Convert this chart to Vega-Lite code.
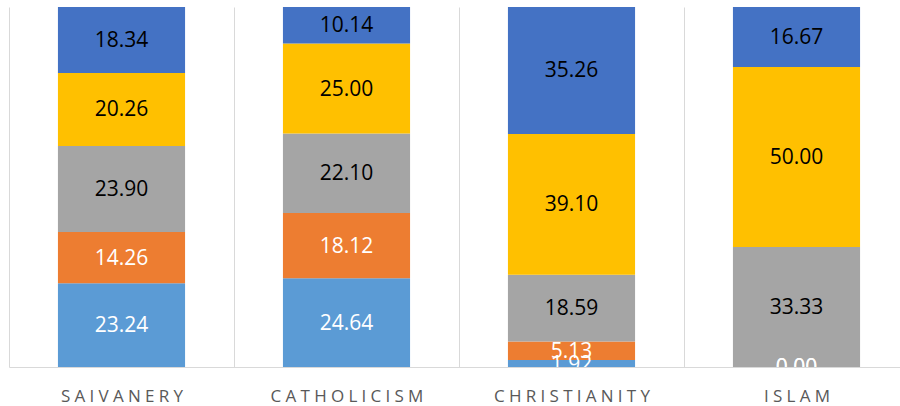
{
  "$schema": "https://vega.github.io/schema/vega-lite/v6.json",
  "width": 900,
  "height": 360,
  "autosize": {"type": "none"},
  "padding": {"left": 0, "top": 7, "right": 0, "bottom": 39},
  "config": {"view": {"stroke": null}},
  "data": {
    "values": [
      {"cat": "SAIVANERY", "s": "A", "v": 23.24},
      {"cat": "SAIVANERY", "s": "B", "v": 14.26},
      {"cat": "SAIVANERY", "s": "C", "v": 23.90},
      {"cat": "SAIVANERY", "s": "D", "v": 20.26},
      {"cat": "SAIVANERY", "s": "E", "v": 18.34},
      {"cat": "CATHOLICISM", "s": "A", "v": 24.64},
      {"cat": "CATHOLICISM", "s": "B", "v": 18.12},
      {"cat": "CATHOLICISM", "s": "C", "v": 22.10},
      {"cat": "CATHOLICISM", "s": "D", "v": 25.00},
      {"cat": "CATHOLICISM", "s": "E", "v": 10.14},
      {"cat": "CHRISTIANITY", "s": "A", "v": 1.92},
      {"cat": "CHRISTIANITY", "s": "B", "v": 5.13},
      {"cat": "CHRISTIANITY", "s": "C", "v": 18.59},
      {"cat": "CHRISTIANITY", "s": "D", "v": 39.10},
      {"cat": "CHRISTIANITY", "s": "E", "v": 35.26},
      {"cat": "ISLAM", "s": "A", "v": 0.00},
      {"cat": "ISLAM", "s": "B", "v": 0.00},
      {"cat": "ISLAM", "s": "C", "v": 33.33},
      {"cat": "ISLAM", "s": "D", "v": 50.00},
      {"cat": "ISLAM", "s": "E", "v": 16.67}
    ]
  },
  "transform": [
    {"stack": "v", "groupby": ["cat"], "sort": [{"field": "s", "order": "ascending"}], "as": ["y0", "y1"]},
    {"calculate": "(datum.y0 + datum.y1) / 2", "as": "ym"}
  ],
  "encoding": {
    "x": {
      "field": "cat",
      "type": "nominal",
      "sort": ["SAIVANERY", "CATHOLICISM", "CHRISTIANITY", "ISLAM"],
      "scale": {"range": [9, 909], "paddingInner": 0, "paddingOuter": 0},
      "axis": {
        "title": null,
        "labelAngle": 0,
        "ticks": false,
        "tickBand": "extent",
        "grid": true,
        "gridColor": "#d9d9d9",
        "gridWidth": 1,
        "domainColor": "#d9d9d9",
        "domainWidth": 1,
        "labelFont": "Open Sans",
        "labelFontSize": 17,
        "labelColor": "#595959",
        "labelPadding": 21,
        "labelBaseline": "top",
        "labelExpr": "join(split(datum.label, ''), '\u2005')"
      }
    }
  },
  "layer": [
    {
      "mark": {"type": "bar", "width": {"band": 0.565}},
      "encoding": {
        "y": {"field": "y0", "type": "quantitative", "scale": {"domain": [0, 100]}, "axis": null},
        "y2": {"field": "y1"},
        "color": {
          "field": "s",
          "type": "nominal",
          "scale": {"domain": ["A", "B", "C", "D", "E"], "range": ["#5B9BD5", "#ED7D31", "#A5A5A5", "#FFC000", "#4472C4"]},
          "legend": null
        }
      }
    },
    {
      "mark": {"type": "text", "font": "Open Sans", "fontSize": 21, "baseline": "middle", "dy": 1, "clip": true},
      "encoding": {
        "y": {"field": "ym", "type": "quantitative"},
        "text": {"field": "v", "type": "quantitative", "format": ".2f"},
        "color": {"condition": {"test": "datum.s == 'A' || datum.s == 'B'", "value": "#ffffff"}, "value": "#000000"}
      }
    }
  ]
}
